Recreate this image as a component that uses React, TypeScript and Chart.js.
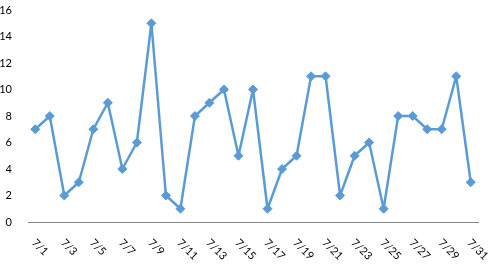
import React, { useEffect, useRef } from "react";
import { Chart, registerables } from "chart.js";

Chart.register(...registerables);

const categories: string[] = Array.from({ length: 31 }, (_, i) => `7/${i + 1}`);
const values: number[] = [7, 8, 2, 3, 7, 9, 4, 6, 15, 2, 1, 8, 9, 10, 5, 10, 1, 4, 5, 11, 11, 2, 5, 6, 1, 8, 8, 7, 7, 11, 3];
const yTicks: number[] = [0, 2, 4, 6, 8, 10, 12, 14, 16];

const FONT = "Lato, 'Liberation Sans', sans-serif";

const rotatedLabels = {
  id: "rotatedLabels",
  afterDraw(chart: any) {
    const ctx = chart.ctx;
    const xs = chart.scales.x;
    ctx.save();
    ctx.font = `11px ${FONT}`;
    ctx.fillStyle = "#000";
    ctx.textAlign = "left";
    ctx.textBaseline = "middle";
    categories.forEach((label, i) => {
      if (i % 2 !== 0) return;
      const x = xs.getPixelForValue(i);
      ctx.save();
      ctx.translate(x - 1.5, 241);
      ctx.rotate(Math.PI / 4);
      ctx.fillText(label, 0, 0);
      ctx.restore();
    });
    ctx.restore();
  },
};

export default function App() {
  const ref = useRef<HTMLCanvasElement | null>(null);
  useEffect(() => {
    document.body.style.margin = "0";
    const chart = new Chart(ref.current!, {
      type: "line",
      data: {
        labels: categories,
        datasets: [
          {
            data: values,
            borderColor: "#5B9BD5",
            backgroundColor: "#5B9BD5",
            borderWidth: 2.5,
            borderJoinStyle: "round",
            borderCapStyle: "round",
            pointStyle: "rectRot",
            pointRadius: 4.5,
            pointBorderWidth: 1,
            tension: 0,
          },
        ],
      },
      options: {
        animation: false,
        responsive: false,
        layout: { padding: { top: 10, right: 22, left: 0, bottom: 0 } },
        plugins: { legend: { display: false }, tooltip: { enabled: false } },
        scales: {
          x: {
            offset: true,
            grid: { display: false },
            border: { display: true, color: "#868686", width: 1 },
            ticks: { display: false },
            afterFit: (s: any) => {
              s.height = 50;
              s.paddingLeft = 0;
              s.paddingRight = 0;
            },
          },
          y: {
            min: 0,
            max: 16,
            afterBuildTicks: (s: any) => {
              s.ticks = yTicks.map((v) => ({ value: v }));
            },
            grid: { display: false },
            border: { display: false },
            ticks: { padding: 8, color: "#000", font: { family: FONT, size: 11 } },
            afterFit: (s: any) => {
              s.width = 28;
              s.paddingTop = 0;
              s.paddingBottom = 0;
            },
          },
        },
      },
      plugins: [rotatedLabels],
    });
    return () => chart.destroy();
  }, []);
  return <canvas ref={ref} width={500} height={272} style={{ display: "block" }} />;
}
